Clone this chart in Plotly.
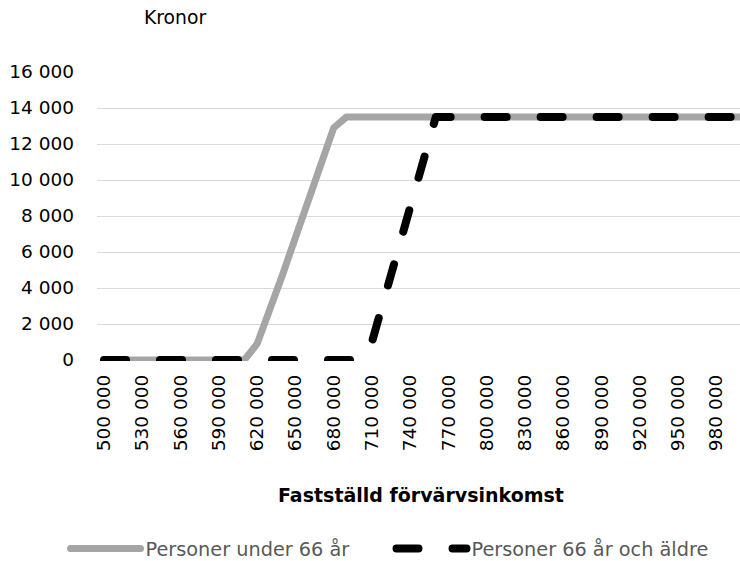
import plotly.graph_objects as go

# Data
income = list(range(500000, 1000001, 10000))
under66 = ([0] * 12 +                                  # 500k..610k
           [900, 2700, 4750, 6800, 8850, 10900, 12900] +  # 620k..680k
           [13500] * 32)                               # 690k..1000k
over66 = ([0] * 21 +                                   # 500k..700k
          [1000, 3500, 6000, 8500, 11000] +            # 710k..750k
          [13500] * 25)                                # 760k..1000k
tick_vals = list(range(500000, 990000, 30000))
tick_text = [f"{v // 1000} 000" for v in tick_vals]
y_ticks = list(range(0, 16001, 2000))
y_text = [f"{v // 1000} 000" if v >= 1000 else "0" for v in y_ticks]

FONT = "DejaVu Sans"
fig = go.Figure()
fig.add_trace(go.Scatter(x=income, y=under66, mode="lines",
                         name="Personer under 66 år",
                         line=dict(color="#A5A5A5", width=7)))
fig.add_trace(go.Scatter(x=income, y=over66, mode="lines",
                         name="Personer 66 år och äldre",
                         line=dict(color="#000000", width=8, dash="22px,34px")))

# Plot-area geometry in pixels, used to place free text
plot_l, plot_w, plot_b, plot_h = 97, 643, 361, 290
def px_to_paper(px, py):
    return (px - plot_l) / plot_w, (plot_b - py) / plot_h

lx, ly = px_to_paper(65.5, 549)
fig.update_layout(
    width=740, height=561,
    margin=dict(l=97, r=0, t=71, b=200, autoexpand=False),
    paper_bgcolor="white", plot_bgcolor="white",
    font=dict(family=FONT, size=18.5, color="#000000"),
    showlegend=True,
    legend=dict(orientation="h", x=lx, xanchor="left", y=ly, yanchor="middle",
                itemwidth=70, entrywidth=241, font=dict(size=19.3, color="#595959"),
                traceorder="normal", bgcolor="rgba(0,0,0,0)"),
    xaxis=dict(range=[494514, 998433], tickmode="array", tickvals=tick_vals,
               ticktext=tick_text, tickangle=-90, showgrid=False, zeroline=False,
               showline=False, ticks="", ticklabelstandoff=9, automargin=False,
               tickfont=dict(size=18.5, color="#000000")),
    yaxis=dict(range=[-55.6, 16055.6], tickmode="array", tickvals=y_ticks,
               ticktext=y_text, showgrid=True, gridcolor="#D9D9D9", gridwidth=1.3,
               zeroline=False, showline=False, ticks="", ticklabelstandoff=22,
               automargin=False, tickfont=dict(size=18.5, color="#000000")),
)

kx, ky = px_to_paper(175, 18)
tx, ty = px_to_paper(421, 495)
fig.add_annotation(text="Kronor", x=kx, y=ky, xref="paper", yref="paper",
                   showarrow=False, xanchor="center", yanchor="middle",
                   font=dict(size=18.8, color="#000000"))
fig.add_annotation(text="<b>Fastställd förvärvsinkomst</b>", x=tx, y=ty,
                   xref="paper", yref="paper", showarrow=False, xanchor="center",
                   yanchor="middle", font=dict(size=19, color="#000000"))

post = """
document.body.style.margin = '0';
document.body.style.overflow = 'hidden';
function roundCaps(){
  document.querySelectorAll('.scatterlayer path.js-line, .legend .legendlines path')
    .forEach(function(p){ p.style.strokeLinecap='round'; p.style.strokeLinejoin='round'; });
}
roundCaps();
var gd = document.getElementsByClassName('plotly-graph-div')[0];
if (gd && gd.on) { gd.on('plotly_afterplot', roundCaps); }
"""
fig.write_html("out.html", post_script=post, config={"displayModeBar": False})
